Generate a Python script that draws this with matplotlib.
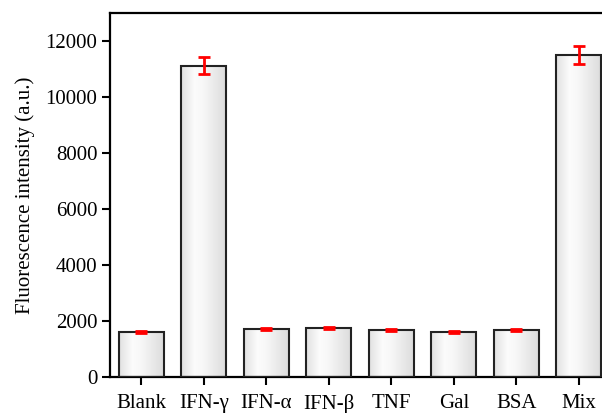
import numpy as np
import matplotlib.pyplot as plt
from matplotlib.colors import LinearSegmentedColormap

categories = ['Blank', 'IFN-γ', 'IFN-α', 'IFN-β', 'TNF', 'Gal', 'BSA', 'Mix']
values = [1610, 11120, 1720, 1740, 1680, 1600, 1680, 11500]
errors = [40, 300, 40, 40, 40, 40, 40, 310]

plt.rcParams['font.family'] = ['Liberation Serif', 'DejaVu Serif']
plt.rcParams['font.size'] = 15

fig = plt.figure(figsize=(6.02, 4.13), dpi=100)
# right edge of the axes runs slightly past the picture, as in the original
ax = fig.add_axes([110 / 602, 1 - 377 / 413, 500 / 602, 364 / 413])

x = np.arange(len(categories))
bars = ax.bar(x, values, width=0.72, color='none', edgecolor='#222222',
              linewidth=1.5, zorder=3)

# light grey horizontal gradient inside each bar
cmap = LinearSegmentedColormap.from_list(
    'bargrad', [(0, '#e0e0e0'), (0.3, '#fcfcfc'), (0.5, '#f7f7f7'), (1, '#dcdcdc')])
grad = np.linspace(0, 1, 256).reshape(1, -1)
for b in bars:
    x0, w, h = b.get_x(), b.get_width(), b.get_height()
    im = ax.imshow(grad, cmap=cmap, aspect='auto', extent=[x0, x0 + w, 0, h],
                   zorder=2, interpolation='bicubic')
    im.set_clip_path(b)

ax.errorbar(x, values, yerr=errors, fmt='none', ecolor='red', elinewidth=2,
            capsize=4, capthick=2, zorder=4)

ax.set_xlim(-0.5, 7.5)
ax.set_ylim(0, 13000)
ax.set_yticks(np.arange(0, 13000, 2000))
ax.set_xticks(x)
ax.set_xticklabels(categories)
ax.set_ylabel('Fluorescence intensity (a.u.)', labelpad=8)

for s in ax.spines.values():
    s.set_linewidth(1.6)
ax.tick_params(direction='out', length=6, width=1.5, pad=3)
ax.tick_params(axis='x', pad=6)

fig.savefig('out.png', dpi=100)
